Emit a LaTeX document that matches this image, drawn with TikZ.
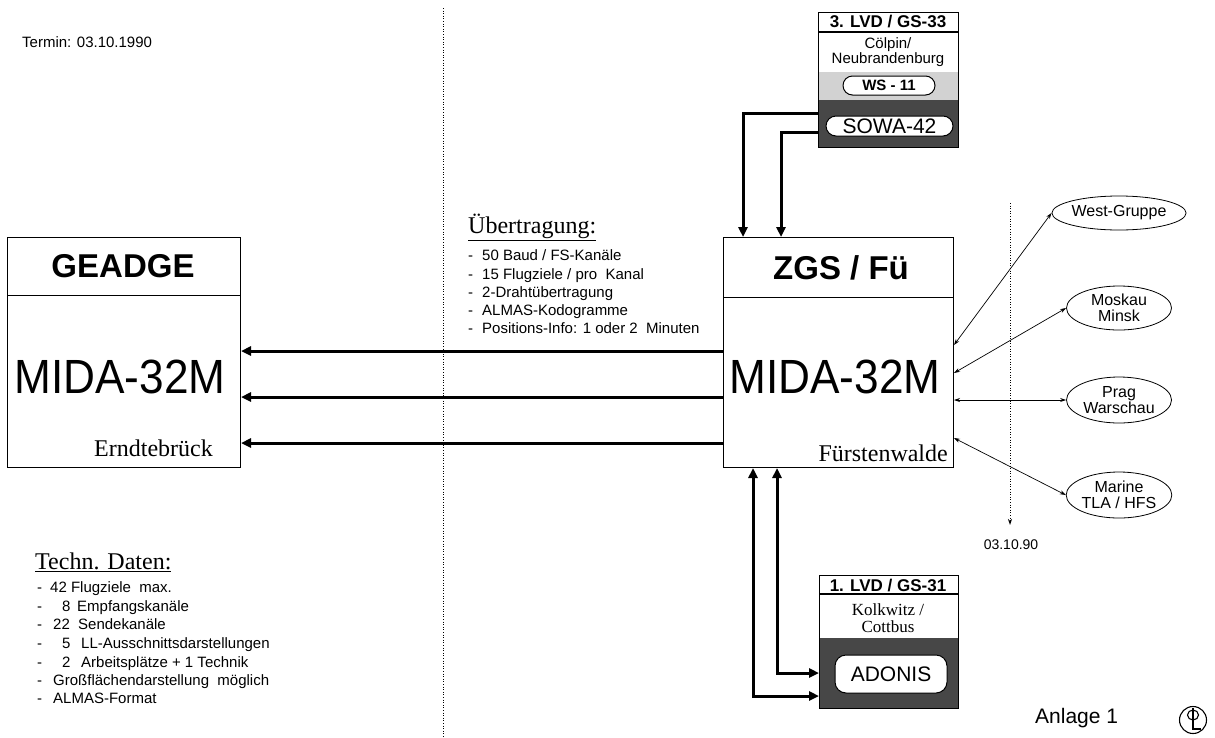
\documentclass[tikz,border=0pt]{standalone}
\usepackage{fontspec}
\setmainfont{Liberation Sans}
\newfontfamily\srf{Liberation Serif}
\usetikzlibrary{arrows.meta,shapes.geometric}
\newcommand\fsz[1]{\fontsize{#1}{#1}\selectfont}
\begin{document}
\begin{tikzpicture}[x=1pt,y=-1pt,
  every node/.style={inner sep=0pt},
  box/.style={draw, line width=1pt, anchor=north west},
  pill/.style={draw, fill=white, line width=1pt},
  ell/.style={ellipse, draw, line width=0.8pt, minimum width=105pt, align=center, font=\fsz{16}},
  fat/.style={line width=3pt, line join=miter},
  tipT/.style={-{Triangle[length=10pt,width=9pt]}},
  tipTT/.style={{Triangle[length=10pt,width=9pt]}-{Triangle[length=10pt,width=9pt]}},
  thinarr/.style={line width=0.7pt, {Stealth[length=6pt,width=4pt]}-{Stealth[length=6pt,width=4pt]}},
  dotline/.style={line width=1pt, dash pattern=on 1pt off 1.6pt},
  li/.style={anchor=base west, font=\fsz{15}},
  hd/.style={anchor=west, font=\srf\fsz{24}}
]
\useasboundingbox (0,0) rectangle (1215,737);

% text top left
\node[anchor=west, font=\fsz{15}] (termin) at (22,42) {Termin: 03.10.1990};

% dotted divider
\coordinate (dvtop) at (443,8);
\coordinate (dvbot) at (443,737);
\draw[dotline] (dvtop) -- (dvbot);

% left box
\node[box, minimum width=233pt, minimum height=230pt] (geadge) at (7,237) {};
\draw[line width=1pt] (geadge.west |- 0,295) -- (geadge.east |- 0,295);
\node[font=\bfseries\fsz{33}] (geadgeT) at (123,266) {GEADGE};
\node (mida1) at (120,377) {\scalebox{0.92}[1]{\fsz{48}MIDA-32M}};
\node[anchor=east, font=\srf\fsz{24}] (ern) at (213,448) {Erndtebrück};

% right main box
\node[box, minimum width=230pt, minimum height=230pt] (zgs) at (723,237) {};
\draw[line width=1pt] (zgs.west |- 0,297) -- (zgs.east |- 0,297);
\node[font=\bfseries\fsz{33}] (zgsT) at (841,268) {ZGS / Fü};
\node (mida2) at (835,377) {\scalebox{0.92}[1]{\fsz{48}MIDA-32M}};
\node[anchor=east, font=\srf\fsz{24}] (fw) at (948,453) {Fürstenwalde};

% three transfer arrows
\draw[fat, tipT] (zgs.west |- 0,351) -- (geadge.east |- 0,351);
\draw[fat, tipT] (zgs.west |- 0,397) -- (geadge.east |- 0,397);
\draw[fat, tipT] (zgs.west |- 0,443) -- (geadge.east |- 0,443);

% Uebertragung
\node[hd] (ueb) at (468,227) {\underline{Übertragung:}};
\node[li] (ud1) at (468,260) {-};
\node[li] (ut1) at (482,260) {50 Baud / FS-Kanäle};
\node[li] (ud2) at (468,279) {-};
\node[li] (ut2) at (482,279) {15 Flugziele / pro\ \ Kanal};
\node[li] (ud3) at (468,297) {-};
\node[li] (ut3) at (482,297) {2-Drahtübertragung};
\node[li] (ud4) at (468,315) {-};
\node[li] (ut4) at (482,315) {ALMAS-Kodogramme};
\node[li] (ud5) at (468,333) {-};
\node[li] (ut5) at (482,333) {Positions-Info: 1 oder 2\ \ Minuten};

% Techn. Daten
\node[hd] (tech) at (35,562) {\underline{Techn. Daten:}};
\node[li] (td1) at (37,592) {-};
\node[li] (tt1) at (50,592) {42 Flugziele\ \ max.};
\node[li] (td2) at (37,611) {-};
\node[li] (tn2) at (62,611) {8};
\node[li] (tt2) at (77,611) {Empfangskanäle};
\node[li] (td3) at (37,629) {-};
\node[li] (tt3) at (53,629) {22\ \ Sendekanäle};
\node[li] (td4) at (37,648) {-};
\node[li] (tn4) at (62,648) {5};
\node[li] (tt4) at (81,648) {LL-Ausschnittsdarstellungen};
\node[li] (td5) at (37,667) {-};
\node[li] (tn5) at (62,667) {2};
\node[li] (tt5) at (81,667) {Arbeitsplätze + 1 Technik};
\node[li] (td6) at (37,685) {-};
\node[li] (tt6) at (53,685) {Großflächendarstellung\ \ möglich};
\node[li] (td7) at (37,703) {-};
\node[li] (tt7) at (53,703) {ALMAS-Format};

% top box 3. LVD
\fill[gray!35] (818,72) rectangle (958,100);
\fill[black!72] (818,100) rectangle (958,147);
\node[box, minimum width=140pt, minimum height=135pt] (lvd33) at (818,12) {};
\draw[line width=2pt] (lvd33.west |- 0,32) -- (lvd33.east |- 0,32);
\node[font=\bfseries\fsz{17}] (lvd33T) at (888,22) {3. LVD / GS-33};
\node[align=center, font=\fsz{15}] (coel) at (888,52) {Cölpin/\\Neubrandenburg};
\node[pill, minimum width=92pt, minimum height=19pt, rounded corners=9.5pt, font=\bfseries\fsz{15}] (ws) at (889,85.5) {WS - 11};
\node[pill, minimum width=127pt, minimum height=20pt, rounded corners=10pt, font=\fsz{21}] (sowa) at (889.5,126) {SOWA-42};

\draw[fat, tipT] (lvd33.west |- 0,113) -| (zgs.north -| 743,0);
\draw[fat, tipT] (lvd33.west |- 0,132) -| (zgs.north -| 781,0);

% bottom box 1. LVD
\fill[black!72] (819,638) rectangle (958,708);
\node[box, minimum width=139pt, minimum height=133pt] (lvd31) at (819,575) {};
\draw[line width=2pt] (lvd31.west |- 0,594) -- (lvd31.east |- 0,594);
\node[font=\bfseries\fsz{17}] (lvd31T) at (888,585) {1. LVD / GS-31};
\node[align=center, font=\srf\fsz{17}] (kolk) at (888,618) {Kolkwitz /\\Cottbus};
\node[pill, minimum width=112pt, minimum height=38pt, rounded corners=11pt, font=\fsz{21}] (adonis) at (891,674) {ADONIS};

\draw[fat, tipTT] (zgs.south -| 777,0) |- (lvd31.west |- 0,673);
\draw[fat, tipTT] (zgs.south -| 753,0) |- (lvd31.west |- 0,696);

% right ellipses
\node[ell, minimum height=34pt] (wg) at (1119,213) {West-Gruppe};
\node[ell, minimum height=44pt] (mm) at (1119,308) {Moskau\\Minsk};
\node[ell, minimum height=46pt] (pw) at (1119,400) {Prag\\Warschau};
\node[ell, minimum height=46pt] (mar) at (1119,495) {Marine\\TLA / HFS};

\draw[thinarr] (zgs.east |- 0,345) -- (wg.west);
\draw[thinarr] (zgs.east |- 0,373) -- (mm.west);
\draw[thinarr] (zgs.east |- 0,400) -- (pw.west);
\draw[thinarr] (zgs.east |- 0,438) -- (mar.west);

% dotted date line
\coordinate (dtop) at (1010,203);
\coordinate (dbot) at (1010,525);
\draw[dotline, -{Stealth[length=6pt,width=4pt]}] (dtop) -- (dbot);
\node[font=\fsz{14}] (d90) at (1011,545) {03.10.90};

% Anlage + logo
\node[anchor=west, font=\fsz{21}] (anl) at (1035,718) {Anlage 1};
\node[circle, draw, line width=1.1pt, minimum size=27pt] (logo) at (1193,720) {};
\draw[line width=1.1pt] (1193,715) ellipse (5.5pt and 5pt);
\draw[line width=1.1pt] (1193,708) -- (1193,729) -- (1201,729);
\end{tikzpicture}
\end{document}
